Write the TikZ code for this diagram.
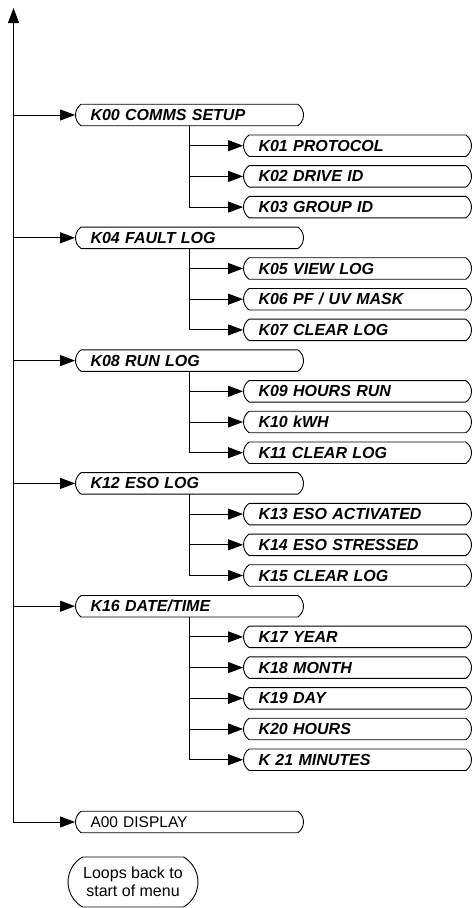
\documentclass[tikz,border=0pt]{standalone}
\usepackage{fontspec}
\setmainfont{Liberation Sans}
\usetikzlibrary{shapes.misc,arrows.meta}
\begin{document}
\begin{tikzpicture}[x=1pt,y=-1pt,
  menu/.style={draw, line width=0.9pt, rounded rectangle, rounded rectangle arc length=110,
    minimum width=228pt, minimum height=21.5pt, text width=198pt, align=left,
    inner xsep=0pt, inner ysep=0pt, font=\fontsize{16}{18}\selectfont\bfseries\itshape},
  plainmenu/.style={menu, font=\fontsize{15.5}{18}\selectfont},
  loopbox/.style={draw, line width=0.9pt, rounded rectangle, rounded rectangle arc length=120,
    minimum width=130pt, minimum height=50pt, align=center, inner sep=0pt,
    font=\fontsize{16}{18}\selectfont},
  conn/.style={line width=1pt, line cap=rect, -{Triangle[length=15pt,width=11pt]}},
  wire/.style={line width=1pt, line cap=rect}]
\useasboundingbox (0,0) rectangle (472,908);
% level 1
\node[menu] (k00) at (189.5,115.0) {K00 COMMS SETUP};
\node[menu] (k04) at (189.5,237.8) {K04 FAULT LOG};
\node[menu] (k08) at (189.5,360.6) {K08 RUN LOG};
\node[menu] (k12) at (189.5,483.4) {K12 ESO LOG};
\node[menu] (k16) at (189.5,606.2) {K16 DATE/TIME};
\node[plainmenu] (a00) at (189.5,822) {A00 DISPLAY};
% level 2
\node[menu] (k01) at (357.5,145.7) {K01 PROTOCOL};
\node[menu] (k02) at (357.5,176.4) {K02 DRIVE ID};
\node[menu] (k03) at (357.5,207.1) {K03 GROUP ID};
\node[menu] (k05) at (357.5,268.5) {K05 VIEW LOG};
\node[menu] (k06) at (357.5,299.2) {K06 PF / UV MASK};
\node[menu] (k07) at (357.5,329.9) {K07 CLEAR LOG};
\node[menu] (k09) at (357.5,391.3) {K09 HOURS RUN};
\node[menu] (k10) at (357.5,422.0) {K10 kWH};
\node[menu] (k11) at (357.5,452.7) {K11 CLEAR LOG};
\node[menu] (k13) at (357.5,514.1) {K13 ESO ACTIVATED};
\node[menu] (k14) at (357.5,544.8) {K14 ESO STRESSED};
\node[menu] (k15) at (357.5,575.5) {K15 CLEAR LOG};
\node[menu] (k17) at (357.5,636.9) {K17 YEAR};
\node[menu] (k18) at (357.5,667.6) {K18 MONTH};
\node[menu] (k19) at (357.5,698.3) {K19 DAY};
\node[menu] (k20) at (357.5,729.0) {K20 HOURS};
\node[menu] (k21) at (357.5,759.7) {K 21 MINUTES};
% loop note
\node[loopbox] (loop) at (133,882) {Loops back to\\start of menu};
% main spine
\coordinate (top) at (13.5,8);
\draw[conn] (top |- a00.west) -- (top);
\foreach \n in {k00,k04,k08,k12,k16,a00}
  \draw[conn] (top |- \n.west) -- (\n.west);
% sub branches
\draw[wire] (k00.south) -- (k00.south |- k03.west);
\draw[wire] (k04.south) -- (k04.south |- k07.west);
\draw[wire] (k08.south) -- (k08.south |- k11.west);
\draw[wire] (k12.south) -- (k12.south |- k15.west);
\draw[wire] (k16.south) -- (k16.south |- k21.west);
\foreach \p/\c in {k00/k01,k00/k02,k00/k03,k04/k05,k04/k06,k04/k07,k08/k09,k08/k10,k08/k11,
  k12/k13,k12/k14,k12/k15,k16/k17,k16/k18,k16/k19,k16/k20,k16/k21}
  \draw[conn] (\p.south |- \c.west) -- (\c.west);
\end{tikzpicture}
\end{document}
